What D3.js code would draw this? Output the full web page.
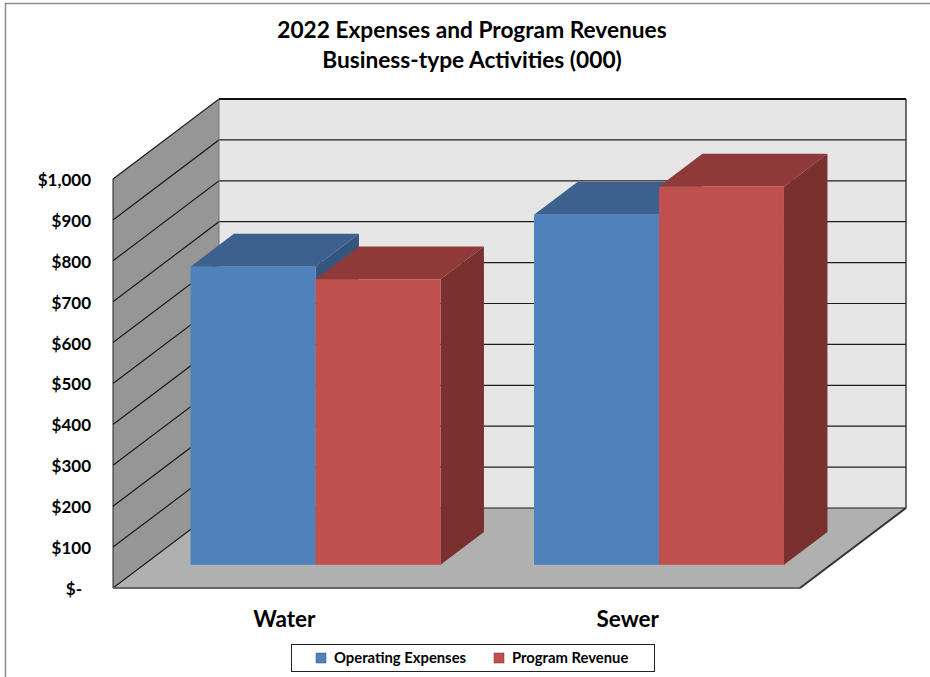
<!DOCTYPE html>
<html>
<head>
<meta charset="utf-8">
<style>
  html, body { margin: 0; padding: 0; background: #fff; }
  svg { display: block; }
  text { font-family: Lato, "Open Sans", sans-serif; font-weight: 700; fill: #000; }
</style>
<script src="https://cdn.jsdelivr.net/npm/d3@7/dist/d3.min.js"></script>
</head>
<body>
<script>
const categories = ["Water", "Sewer"];
const seriesNames = ["Operating Expenses", "Program Revenue"];
const operatingExpenses = [729, 856];
const programRevenue = [698, 925];
const tickValues = [0, 100, 200, 300, 400, 500, 600, 700, 800, 900, 1000];
const tickLabels = ["$-", "$100", "$200", "$300", "$400", "$500", "$600", "$700", "$800", "$900", "$1,000"];
const titleLines = ["2022 Expenses and Program Revenues", "Business-type Activities (000)"];

const faceColors = [
  { front: "#4f81bd", top: "#3c618f", side: "#34557e" },
  { front: "#c0504d", top: "#8f3a38", side: "#7a302f" }
];

const width = 930, height = 677;
const svg = d3.select("body").append("svg").attr("width", width).attr("height", height);

// Oblique projection: x along the front edge, value upward, depth 0 (front) to 1 (back wall).
const x = d3.scaleLinear().domain([0, 2]).range([113, 800]);
const y = d3.scaleLinear().domain([0, 1000]).range([588, 179]);
const depthX = d3.scaleLinear().domain([0, 1]).range([0, 106]);
const depthY = d3.scaleLinear().domain([0, 1]).range([0, -80]);
const pt = (cx, v, d) => [x(cx) + depthX(d), y(v) + depthY(d)];
const poly = pts => "M" + pts.map(p => p.join(",")).join("L") + "Z";

// Page frame along the top and left edges
svg.append("path").attr("d", "M5.5,677V3.5H930").attr("fill", "none").attr("stroke", "#8c8c8c").attr("stroke-width", 1.5);

// Back wall, side wall and floor
svg.append("path").attr("d", poly([pt(0, 0, 1), pt(2, 0, 1), pt(2, 1000, 1), pt(0, 1000, 1)])).attr("fill", "#e6e6e6");
svg.append("path").attr("d", poly([pt(0, 0, 0), pt(0, 0, 1), pt(0, 1000, 1), pt(0, 1000, 0)])).attr("fill", "#969696");
svg.append("path").attr("d", poly([pt(0, 0, 0), pt(2, 0, 0), pt(2, 0, 1), pt(0, 0, 1)])).attr("fill", "#b0b0b0");

// Gridlines wrap from the side wall onto the back wall
const grid = svg.append("g").attr("fill", "none").attr("stroke", "#1c1c1c").attr("stroke-width", 1.2);
grid.selectAll("path").data(tickValues).join("path")
  .attr("d", v => d3.line()([pt(0, v, 0), pt(0, v, 1), pt(2, v, 1)]));

// Wall and floor edges
svg.append("path").attr("d", d3.line()([pt(0, 1000, 0), pt(0, 0, 0)])).attr("fill", "none").attr("stroke", "#222");
svg.append("path").attr("d", d3.line()([pt(0, 0, 1), pt(0, 1000, 1)])).attr("fill", "none").attr("stroke", "#777");
svg.append("path").attr("d", d3.line()([pt(2, 1000, 1), pt(2, 0, 1)])).attr("fill", "none").attr("stroke", "#333").attr("stroke-width", 1.4);
svg.append("path").attr("d", d3.line()([pt(0, 1000, 1), pt(2, 1000, 1)])).attr("fill", "none").attr("stroke", "#111").attr("stroke-width", 2);
svg.append("path").attr("d", d3.line()([pt(0, 0, 0), pt(2, 0, 0)])).attr("fill", "none").attr("stroke", "#666").attr("stroke-width", 2);
svg.append("path").attr("d", d3.line()([pt(2, 0, 0), pt(2, 0, 1)])).attr("fill", "none").attr("stroke", "#333").attr("stroke-width", 2);

// Clustered bars: each sits between two depths inside its category band
const barNear = 0.29, barFar = 0.70;
const band = d3.scaleBand().domain(categories).range([0, 2]);
const inner = d3.scaleBand().domain(d3.range(seriesNames.length)).range([0, 250 / 343.5]);
const bars = [];
categories.forEach((c, i) => {
  [operatingExpenses, programRevenue].forEach((vals, s) => {
    const left = band(c) + (band.bandwidth() - inner.range()[1]) / 2 + inner(s);
    bars.push({ left, right: left + inner.bandwidth(), value: vals[i], s });
  });
});
const barG = svg.append("g").selectAll("g").data(bars).join("g");
barG.append("path").attr("fill", d => faceColors[d.s].side)
  .attr("d", d => poly([pt(d.right, 0, barNear), pt(d.right, 0, barFar), pt(d.right, d.value, barFar), pt(d.right, d.value, barNear)]));
barG.append("path").attr("fill", d => faceColors[d.s].top)
  .attr("d", d => poly([pt(d.left, d.value, barNear), pt(d.right, d.value, barNear), pt(d.right, d.value, barFar), pt(d.left, d.value, barFar)]));
barG.append("path").attr("fill", d => faceColors[d.s].front)
  .attr("d", d => poly([pt(d.left, 0, barNear), pt(d.right, 0, barNear), pt(d.right, d.value, barNear), pt(d.left, d.value, barNear)]));

// Value axis labels
svg.append("g").selectAll("text").data(tickValues).join("text")
  .attr("x", (d, i) => i === 0 ? 82 : 91)
  .attr("y", d => y(d) + 1)
  .attr("dy", "0.35em")
  .attr("text-anchor", "end")
  .attr("font-size", 17)
  .text((d, i) => tickLabels[i]);

// Category labels
svg.append("g").selectAll("text").data(categories).join("text")
  .attr("x", c => x(band(c) + band.bandwidth() / 2) - 0.5)
  .attr("y", 627)
  .attr("text-anchor", "middle")
  .attr("font-size", 22.5)
  .text(c => c);

// Title
svg.append("g").selectAll("text").data(titleLines).join("text")
  .attr("x", 472)
  .attr("y", (d, i) => 38 + i * 30)
  .attr("text-anchor", "middle")
  .attr("font-size", 22.7)
  .text(d => d);

// Legend
svg.append("rect").attr("x", 291.5).attr("y", 644.5).attr("width", 363).attr("height", 27)
  .attr("fill", "#fff").attr("stroke", "#222").attr("stroke-width", 1);
const legendX = [316, 494];
const legend = svg.append("g").selectAll("g").data(seriesNames).join("g")
  .attr("transform", (d, i) => `translate(${legendX[i]},653)`);
legend.append("rect").attr("width", 10).attr("height", 10)
  .attr("fill", (d, i) => faceColors[i].front)
  .attr("stroke", (d, i) => faceColors[i].side).attr("stroke-width", 0.5);
legend.append("text").attr("x", 18).attr("y", 5).attr("dy", "0.36em").attr("font-size", 14.8).text(d => d);
</script>
</body>
</html>
